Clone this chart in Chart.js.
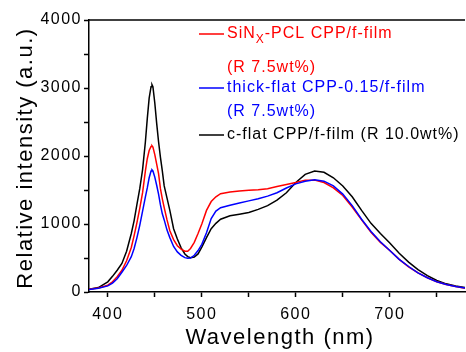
<!DOCTYPE html>
<html><head><meta charset="utf-8">
<script src="https://cdn.jsdelivr.net/npm/chart.js@4/dist/chart.umd.min.js"></script>
<style>html,body{margin:0;padding:0;background:#fff}#wrap{width:466px;height:352px}</style>
</head><body><div id="wrap"><canvas id="c"></canvas></div>
<script>
const wavelengths = [380,390,400,405,410,415,420,425,428,431,434,437,440,442,444,446,447,448,450,452,454,456,458,460,463,466,470,474,478,482,485,488,492,496,500,505,510,515,520,530,540,550,560,570,580,590,600,610,620,630,640,650,660,670,680,690,700,710,720,730,740,750,760,770,780];
const sinxPcl = [40,60,100,150,225,320,460,655,830,1020,1230,1460,1780,1960,2080,2140,2150,2130,2020,1880,1740,1520,1370,1240,1060,900,770,680,630,600,600,640,730,860,1000,1200,1330,1400,1445,1470,1485,1495,1505,1520,1550,1580,1610,1645,1645,1610,1530,1420,1250,1060,880,730,610,480,370,280,210,150,110,80,55];
const thickFlat = [35,55,90,130,195,290,390,520,640,800,980,1190,1400,1530,1680,1780,1795,1780,1690,1570,1440,1280,1150,1060,910,800,670,590,540,505,495,500,540,610,700,870,1080,1190,1240,1275,1310,1340,1370,1410,1460,1530,1590,1630,1650,1630,1560,1440,1270,1070,890,740,610,480,375,280,210,150,110,80,60];
const cFlat = [40,65,150,230,320,420,600,860,1050,1290,1520,1800,2210,2550,2850,3020,3050,3020,2780,2480,2210,1980,1780,1560,1380,1200,930,780,650,560,520,505,515,560,660,800,930,1010,1070,1120,1145,1170,1215,1270,1350,1460,1610,1730,1780,1760,1680,1560,1400,1200,1010,860,720,570,440,330,240,170,120,90,65];
const xTickValues = [400,450,500,550,600,650,700,750];
const yTickValues = [0,500,1000,1500,2000,2500,3000,3500,4000];
const seriesNames = ['SiNX-PCL CPP/f-film (R 7.5wt%)','thick-flat CPP-0.15/f-film (R 7.5wt%)','c-flat CPP/f-film (R 10.0wt%)'];
const seriesColors = ['#ff0000','#0000ff','#000000'];
const xTitle = 'Wavelength (nm)';
const yTitle = 'Relative intensity (a.u.)';

const pts = arr => arr.map((v,i)=>({x:wavelengths[i], y:v}));
const FONT = '"Liberation Sans", Arial, sans-serif';

const deco = {
  id:'deco',
  beforeDraw(chart){ chart.ctx.letterSpacing = '1.5px'; },
  afterDraw(chart){
    const ctx = chart.ctx, a = chart.chartArea;
    ctx.save();
    ctx.strokeStyle='#000'; ctx.lineWidth=1.5;
    ctx.beginPath(); ctx.moveTo(a.left, a.top); ctx.lineTo(a.right, a.top); ctx.stroke();
    ctx.fillStyle='#000';
    ctx.letterSpacing='1.5px';
    ctx.font='22px '+FONT; ctx.textAlign='center'; ctx.textBaseline='middle';
    ctx.fillText(xTitle, 280, 338);
    ctx.save(); ctx.translate(26,158); ctx.rotate(-Math.PI/2);
    ctx.fillText(yTitle, 0, 0); ctx.restore();
    ctx.letterSpacing='1px';
    ctx.textAlign='left'; ctx.textBaseline='middle';
    const lx1=199, lx2=224, tx=227;
    const rows=[
      {c:seriesColors[0], y:34, line:true, parts:[['SiN',0],['X',1],['-PCL CPP/f-film',0]]},
      {c:seriesColors[0], y:68, line:false, parts:[['(R 7.5wt%)',0]]},
      {c:seriesColors[1], y:88, line:true, parts:[['thick-flat CPP-0.15/f-film',0]]},
      {c:seriesColors[1], y:112, line:false, parts:[['(R 7.5wt%)',0]]},
      {c:seriesColors[2], y:135, line:true, parts:[['c-flat CPP/f-film (R 10.0wt%)',0]]}
    ];
    rows.forEach(r=>{
      if(r.line){ctx.strokeStyle=r.c; ctx.lineWidth=1.5; ctx.beginPath(); ctx.moveTo(lx1,r.y); ctx.lineTo(lx2,r.y); ctx.stroke();}
      ctx.fillStyle=r.c; let x=tx;
      r.parts.forEach(([t,sub])=>{
        ctx.font=(sub?'12px ':'16px ')+FONT;
        ctx.fillText(t,x,r.y+(sub?6:0));
        x+=ctx.measureText(t).width;
      });
    });
    ctx.restore();
  }
};

const only = step => (v => (Math.abs(v % step) < 1e-6 ? String(v) : ''));

new Chart(document.getElementById('c'), {
  type:'scatter',
  data:{datasets:[
    {label:seriesNames[1], data:pts(thickFlat), borderColor:seriesColors[1]},
    {label:seriesNames[0], data:pts(sinxPcl), borderColor:seriesColors[0]},
    {label:seriesNames[2], data:pts(cFlat), borderColor:seriesColors[2]}
  ].map(d=>Object.assign(d,{showLine:true, pointRadius:0, borderWidth:1.5, tension:0, fill:false}))},
  options:{
    responsive:true, maintainAspectRatio:false, animation:false,
    layout:{padding:{top:20,right:1,left:0,bottom:0}},
    plugins:{legend:{display:false}, tooltip:{enabled:false}},
    scales:{
      x:{type:'linear', min:380, max:780,
        afterBuildTicks:s=>{ s.ticks = xTickValues.map(v=>({value:v})); },
        afterFit:s=>{s.height=60;},
        border:{color:'#000', width:1.5},
        grid:{drawOnChartArea:false, drawTicks:true, tickLength:5, tickColor:'#000', tickWidth:1.5},
        ticks:{autoSkip:false, maxRotation:0, color:'#000', padding:8, font:{size:16, family:FONT}, callback:only(100)}
      },
      y:{type:'linear', min:0, max:4000,
        afterBuildTicks:s=>{ s.ticks = yTickValues.map(v=>({value:v})); },
        afterFit:s=>{s.width=89;},
        border:{color:'#000', width:1.5},
        grid:{drawOnChartArea:false, drawTicks:true, tickLength:5, tickColor:'#000', tickWidth:1.5},
        ticks:{autoSkip:false, color:'#000', padding:2, font:{size:16, family:FONT}, callback:only(1000)}
      }
    }
  },
  plugins:[deco]
});
</script>
</body></html>
